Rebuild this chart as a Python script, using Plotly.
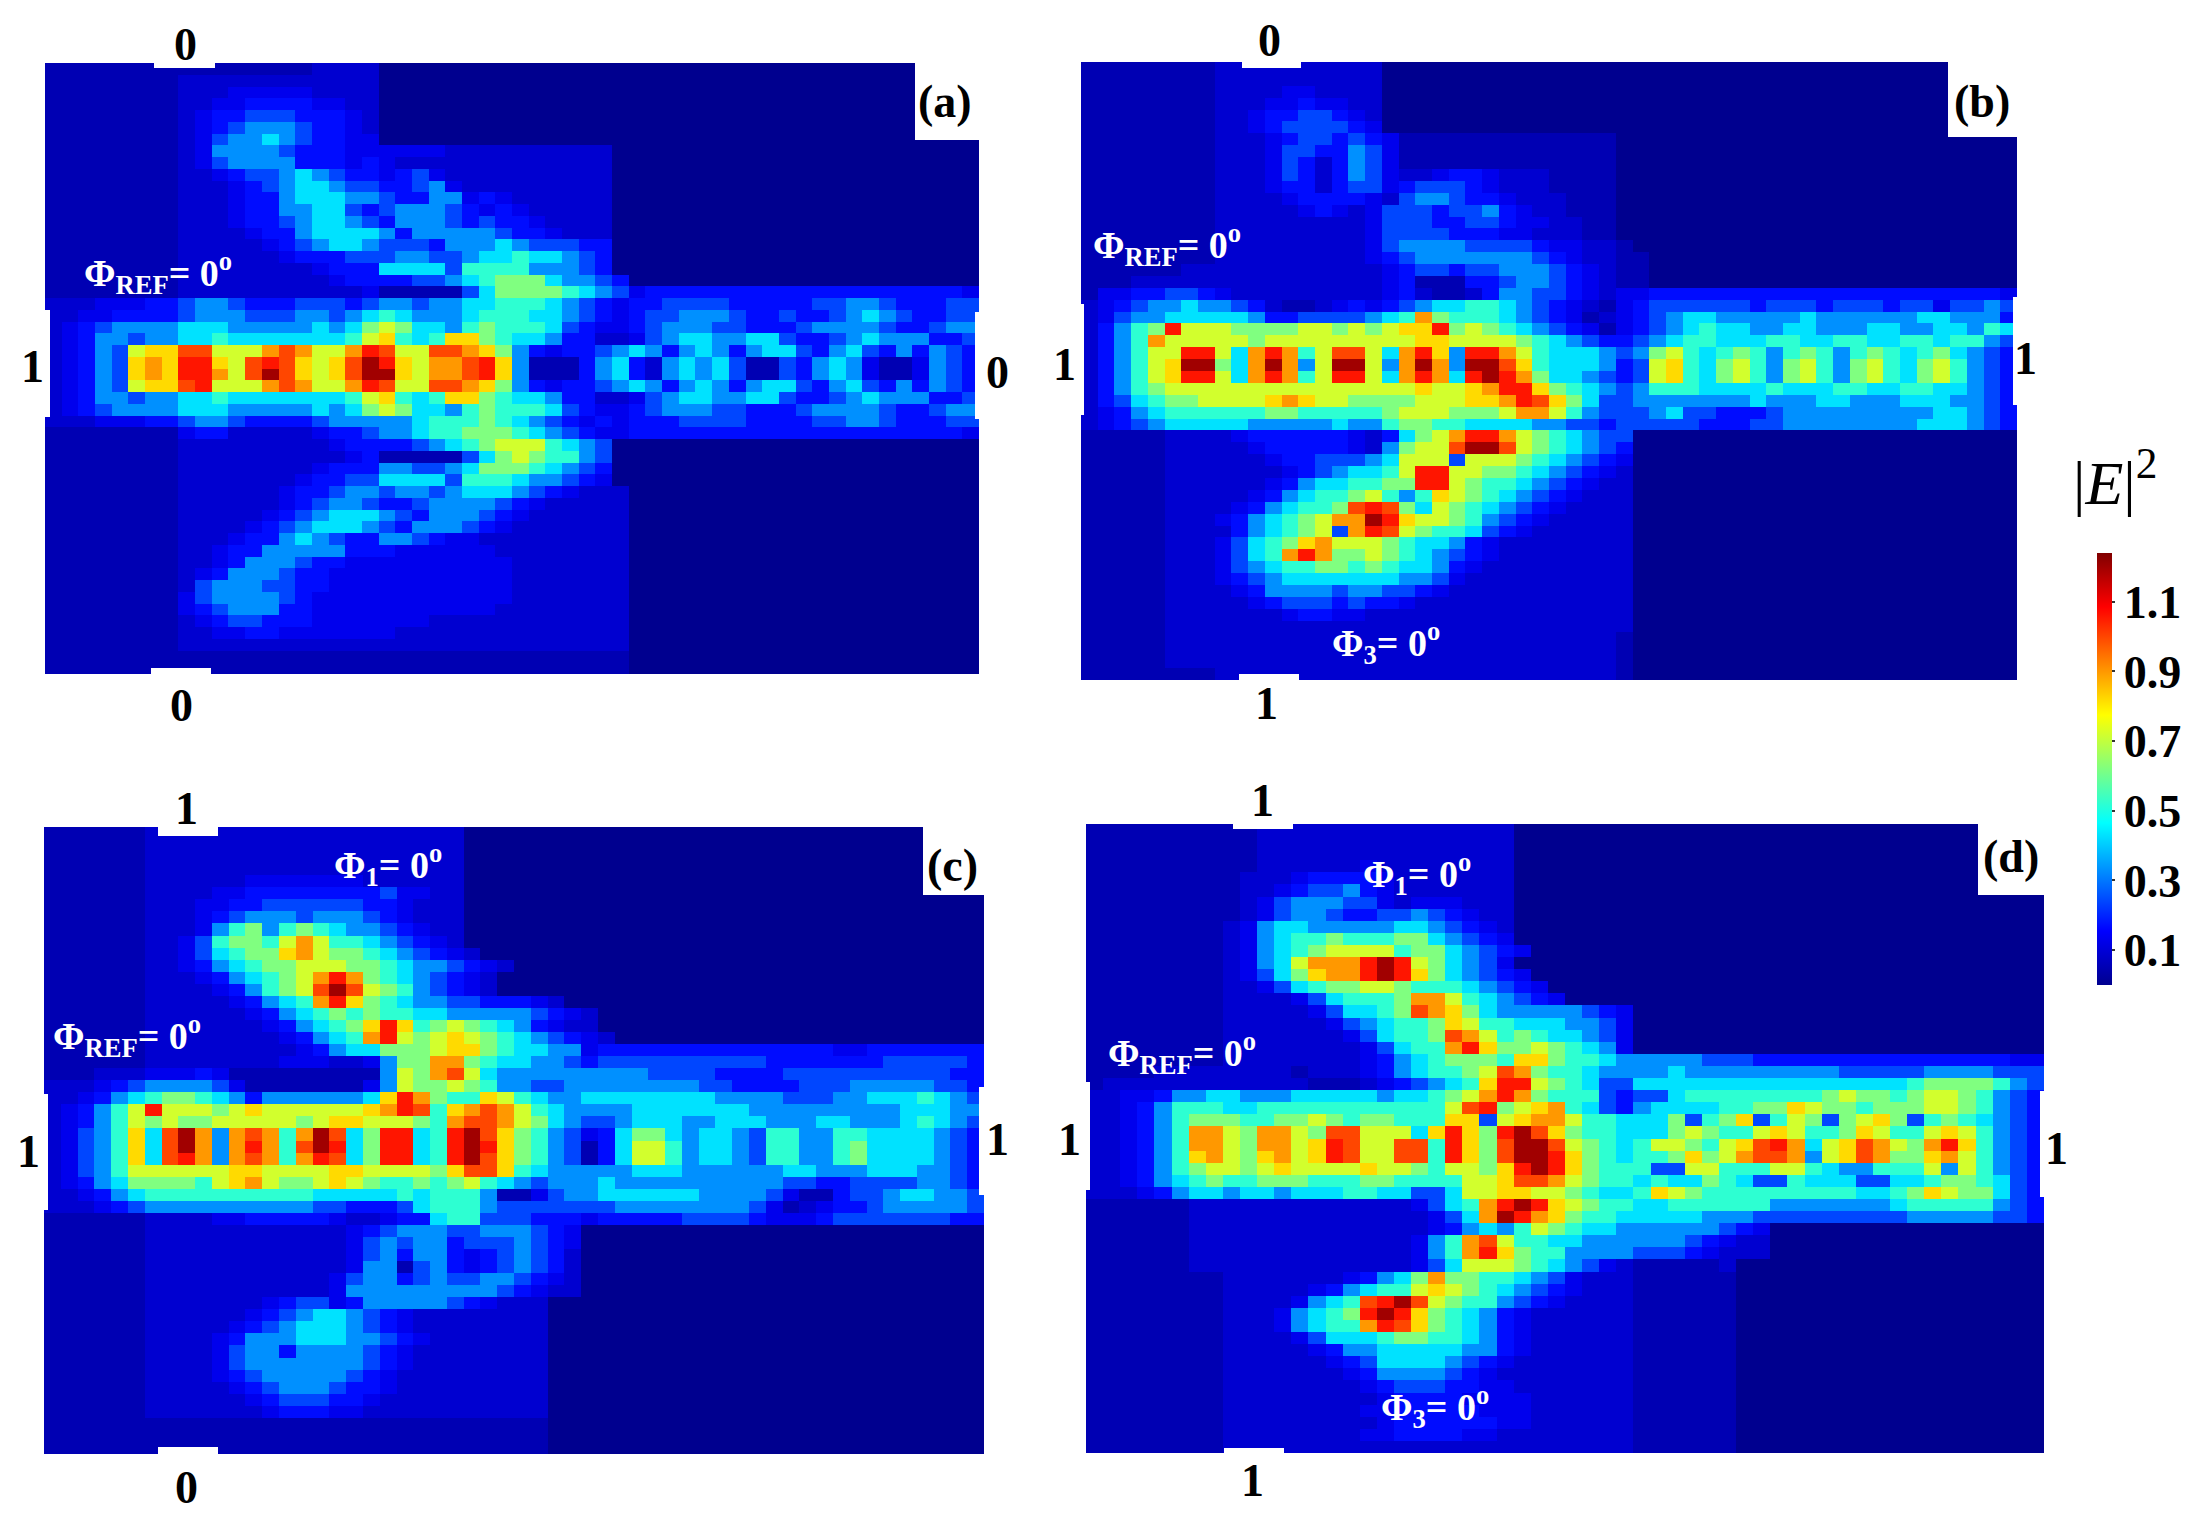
import plotly.graph_objects as go

W, H = 2196, 1525
NX, NY = 56, 52
LEVELS = {'.':0.0, ':':0.05, ',':0.09, '-':0.13, '1':0.17, '2':0.24, '3':0.33, '4':0.43, '5':0.52, '6':0.62,
          '7':0.72, '8':0.82, '9':0.9, 'a':1.0, 'b':1.06, 'c':1.2}

# every row: groups of 8 columns; the last given character continues to the right edge
ROWS_A = [
":::::::: :::::::: ,,,,.",
":::::::: ,,,,,,,, ,,,,.",
":::::::: ,,,----- ,,,,.",
":::::::: ,,--1111 --,,.",
":::::::: ,-112221 11-,.",
":::::::: ,-123332 11-,.",
":::::::: ,-233432 11--.",
":::::::: ,-333321 11-- ,,,,,,,, ,,.",
":::::::: ,-233331 11-1-,,, ,,,,,,,, ,,.",
":::::::: ,,-12234 3211-12- ,,,,,,,, ,,.",
":::::::: ,,,-1234 43221123 -,,,,,,, ,,.",
":::::::: ,,,-1134 44332113 3-1-,,,, ,,.",
":::::::: ,,,-1133 44212333 21-1-,,, ,,.",
":::::::: ,,,-1123 44321333 21211-,, ,,.",
":::::::: ,,,,-113 44443133 333211-, ,,.",
":::::::: ,,,,,-12 34432221 33343222 11.",
":::::::: ,,,,,,-1 11222332 23445443 21.",
":::::::: ,,,,,,,, -1114444 25555333 21.",
":::::::: ,,,,,,,, ,-111122 34566643 321.",
":::::::: ,,,,,,,, ,,,-:::: :2466665 432-1111 11111111 1111111-",
",,,---11 23321112 22123323 34455543 21-11222 21111122 33211122",
",,--1111 23332223 32345433 34555443 21-12233 32112112 34321122",
",-123333 44433333 43467644 35655542 1--12333 22111233 33211233",
",-133233 44544444 44578545 88654431 1,,-2344 33442112 34333112",
",-132788 aa7779a9 779ba77a a98631-1 12343134 31344213 42131321",
",-132898 bb87aba8 78acb879 9ab83::: 1341,343 42::2134 3-::-321",
",-132898 bb97aca8 78acc879 9ab83::: 1341,343 42::2134 3-::-321",
",-132788 ab7779a9 779ba77a a98631-1 12343134 31344213 42131321",
",-133233 44544444 44578545 88654431 1,,-2344 33442112 34333112",
",-123333 44433333 43467644 35655542 1--12333 22111233 33211233",
",,,---11 23321111 23333345 55654321 -1-11122 22111122 33211122",
":::::::: -11,,,,, -1123345 56665432 1--11111 11111111 1111111-",
":::::::: ,,,,,,,, ,-111123 45677754 32.",
":::::::: ,,,,,,,, ,,-1:::: :2467655 32.",
":::::::: ,,,,,,,, -1113322 34666543 21.",
":::::::: ,,,,,,,- 11224444 25554332 1-.",
":::::::: ,,,,,,-1 12332332 3444321- ,,,.",
":::::::: ,,,,,,-1 23321123 33321-,, ,,,.",
":::::::: ,,,,,-12 34443213 3321-,,, ,,,.",
":::::::: ,,,,-123 44432133 321-,,,, ,,,.",
":::::::: ,,,-1134 32113321 --,,,,,, ,,,.",
":::::::: ,,-11333 33111--- ---,,,,, ,,,.",
":::::::: ,,-13332 11------ ----,,,, ,,,.",
":::::::: ,-133321 1------- ----,,,, ,,,.",
":::::::: ,2333221 1------- ----,,,, ,,,.",
":::::::: -2333321 -------- ----,,,, ,,,.",
":::::::: -1233311 -------- ---,,,,, ,,,.",
":::::::: ,-122111 -------, ,,,,,,,, ,,,.",
":::::::: ,,--11-- -----,,, ,,,,,,,, ,,,.",
":::::::: ,,,,,,,, ,,,,,,,, ,,,,,,,, ,,,.",
":::::::: :::::::: :::::::: :::::::: :::.",
":::::::: :::::::: :::::::: :::::::: :::.",
]

ROWS_B = [
":::::::: ,,,,,,,, ,,.",
":::::::: ,,,,,,,, ,,.",
":::::::: ,,,,--,, ,,.",
":::::::: ,,,--1-- ,,.",
":::::::: ,,-11221 -,.",
":::::::: ,,-12222 1-.",
":::::::: ,,,-1221 21-::::: :::::::: .",
":::::::: ,,,-2211 32-::::: :::::::: .",
":::::::: ,,,-21,1 32-::::: :::::::: .",
":::::::: ,,,-21,1 32-,,-11 -,,,:::: .",
":::::::: ,,,-11,1 22-12221 -,,,:::: .",
":::::::: ,,,,-111 1-,23321 1-,,,::: .",
":::::::: ,,,,,-1- ,-222122 31-,,::: .",
":::::::: ,,,,,,,, ,-222112 21--,,:: .",
":::::::: ,,,,,,,, ,-222211 1--,,,:: .",
":::::::: ,,,,,,,, ,-233332 2221--,, :.",
":::::::: ,,,,,,,, ,-123333 33321-,, ::.",
"::::::,, ,,,,,,,, ,,-12212 233321-, ::.",
":::,,,,, ,,,,,,,, ,,-1:::1 123321-, ::.",
":--11221 -,,,,,,, ,,-1,::, 133221-, --111111 11111111 1111111-",
",-123343 321,::,- 1-123445 54321-,: -1222222 12221222 122-2232",
",-233444 44311222 23459655 54321-:, -1234433 33343333 33443331",
",1356b77 76666776 76788b67 654321-: -1234544 33443334 43344354",
",1359777 77677777 77778877 77654321 12345544 45544554 45545532",
",13577bb 749b957a a749b83b b9754443 23675456 53565356 54564321",
",13578cc 649c937c c739c93c ca854443 12785467 53675367 54675321",
",13578bb 749b957b b749b94b cb964432 12785467 53675367 54675321",
",1356777 77777777 77778778 9bb86543 23555444 45444554 45544321",
",1245667 77789877 66667778 89ba8642 23333333 43334433 34443321",
",-134555 55566555 55677766 67997532 22342211 12333333 33344321",
",-123444 44333334 33566554 44433221 22222111 22333333 33444321",
":::::,,, ,-111111 -,14679b b9765432 2.",
":::::,,, ,,-11111 -,3677ac ca765432 1.",
":::::,,, ,,,-1122 23477727 77654321 -.",
":::::,,, ,,,,-123 4457bb77 6654321- ,.",
":::::,,, ,,,-1344 5566bb76 554321-, ,.",
":::::,,, ,,-13455 67535876 54321-,, ,.",
":::::,,, ,-134556 aba64765 4321-,,, ,.",
":::::,,, -1345679 9cb87765 321-,,,, ,.",
":::::,,, ,1345672 9ba76554 21-,,,,, ,.",
":::::,,, -2456897 77654431 -,,,,,,, ,.",
":::::,,, -2459b96 67654321 -,,,,,,, ,.",
":::::,,, -2345566 5654431- ,,,,,,,, ,.",
":::::,,, -1234444 444332-, ,,,,,,,, ,.",
":::::,,, ,-133332 33221-,, ,,,,,,,, ,.",
":::::,,, ,,-12221 211-,,,, ,,,,,,,, ,.",
":::::,,, ,,,,-11- -,,,,,,, ,,,,,,,, ,.",
":::::,,, ,,,,,,,, ,,,,,,,, ,,,,,,,, ,.",
":::::,,, ,,,,,,,, ,,,,,,,, ,,,,,,,, :.",
":::::,,, ,,,,,,,, ,,,,,,,, ,,,,,,,, :.",
":::::,,, ,,,,,,,, ,,,,,,,, ,,,,,,,, :.",
":::::::: ,,,,,,,, ,,,,,,,, ,,,,,,,, :.",
]

ROWS_C = [
"::::::,, ,,,,,,,, ,,,,,,,, ,.",
"::::::,, ,,,,,,,, ,,,,,,,, ,.",
"::::::,, ,,,,,,,, ,,,,,,,, ,.",
"::::::,, ,,,,,,,, ,,,,,,,, ,.",
"::::::,, ,,,,---- ---,,,,, ,.",
"::::::,, ,,--1111 11112--, ,.",
"::::::,, ,--11222 22211-,, ,.",
"::::::,, ,-123332 33321-,, ,.",
"::::::,, ,-356356 543321-, ,.",
"::::::,, -2566579 7554321- ,.",
"::::::,, -2456689 76654321 -,.",
"::::::,, -1345667 77665433 21-,.",
"::::::,, ,-134567 9b965432 1-,.",
"::::::,, ,,-13567 aca76532 1-,.",
"::::::,, ,,,-1345 9b865433 22111-,.",
"::::::,, ,,,,-134 56565544 3333321- ,.",
"::::::,, ,,,,,-13 4568b856 765431-, ,.",
"::::::,, ,,,,,,-1 3459b767 87654321 -,.",
"::::::,, ,,,,,,,- 13446667 88654433 -1111111 1111111- -1111111",
"::::::,, ,,,,,,-- -,,-3669 96544332 12222222 22211111 11222221",
":::,,,-- -1-::::: ::::3769 a7433333 33332222 11112222 22222211",
",,,-1233 332-:::: :::-3766 76533223 33333332 21111222 33333221",
",,-13456 65431333 33348b96 55875433 44444444 33332223 34445432",
",-1357b7 77678777 77789ba5 89a97543 33344444 44333333 33344433",
",-135767 66777776 78877765 9aa97643 22344433 44433344 33345432",
",-23584a c939a959 ca46bb45 bca86532 -1466434 43255335 54444321",
",-23584a c939b95a cb46bb45 bcb86532 :1477534 43255335 64444321",
",-23584a b939a959 ba46bb45 bca86532 :1477534 43255335 64444321",
",-235777 77788777 78877776 8aa85433 33344433 33334433 34443321",
",-134666 65789766 78765565 67543233 34333333 33332211 22223321",
",,-13455 55555555 44444545 553::-23 34444443 3332-::1 22344332",
",,,-1233 33333333 22111245 55322222 22333333 332-:,-1 12333332",
"::::::,, ,,--1111 1-,,-114 55222111 -1111122 221---12 22222211",
"::::::,, ,,,,,,,, ,,-12333 2233321- .",
"::::::,, ,,,,,,,, ,,-23233 1222321- .",
"::::::,, ,,,,,,,, ,,-23133 1-12321, .",
"::::::,, ,,,,,,,, ,,-33:23 1-12321, .",
"::::::,, ,,,,,,,, ,-233123 223321-, .",
"::::::,, ,,,,,,,, ,-333333 33321-,, .",
"::::::,, ,,,,,-12 2-133333 21-,,,.. .",
"::::::,, ,,,,-123 44321-,, ,,,,,,.. .",
"::::::,, ,,,-1234 44321-,, ,,,,,,.. .",
"::::::,, ,,-13334 443321-, ,,,,,,.. .",
"::::::,, ,,-23313 33321-,, ,,,,,,.. .",
"::::::,, ,,-23333 33321-,, ,,,,,,.. .",
"::::::,, ,,-12333 3321-,,, ,,,,,,.. .",
"::::::,, ,,,-1233 3211-,,, ,,,,,,.. .",
"::::::,, ,,,,-122 211-,,,, ,,,,,,.. .",
"::::::,, ,,,,,-11 1--,,,,, ,,,,,,.. .",
":::::::: :::::::: :::::::: ::::::.. .",
":::::::: :::::::: :::::::: ::::::.. .",
":::::::: :::::::: :::::::: ::::::.. .",
]

ROWS_D = [
":::::::: ::,,,,,, ,,,,,,,, ,.",
":::::::: ::,,,,,, ,,,,,,,, ,.",
":::::::: ::,,,,,, ,,,,,,,, ,.",
":::::::: ::,,,,,, -,,,,,,, ,.",
":::::::: :,,,-111 1-,,,,,, ,.",
":::::::: :,,-1223 1-,,,,,, ,.",
":::::::: :,-23332 2-,---,, ,.",
":::::::: :,-23321 122321-, ,.",
":::::::: ,-344333 3344321- ,.",
":::::::: ,-345565 55664321 -.",
":::::::: ,-345677 77566432 1-.",
":::::::: ,-347999 bcb76432 -.",
":::::::: ,-246899 bcb86432 1-.",
":::::::: ,,-24566 77655543 21-.",
":::::::: ,,,,-245 55699754 321-.",
":::::::: ,,,,,-24 456a9864 3333321- .",
":::::::: ,,,,,,-2 34556875 5444332- .",
":::::::: ,,,,,,,- 24556a97 5654432- .",
":::::::: ,,,,,,,, -24559b8 6676543- .",
":::::::: ,,,,,,,, -1345666 58865543 33332221 11111111 111111--",
"::::,,,, ,,,,:,,, -1345567 a9655433 33433333 33332222 23333222",
":,,,,,,, ,,,,,::: ,-123458 bb765422 44444444 44444444 56666532",
",,--1334 43334444 43445679 b9655521 22455555 55567665 67765321",
",,-13555 44555555 555557ab 67895421 34444556 68766566 67765321",
",,-13566 65566765 66555882 78997554 44625682 57626786 25654321",
",,-13599 769976aa 77748b86 bca86554 44676557 87556875 57875321",
",,-13599 769978ba 77aa5b86 acca7654 5776578a b9478a97 69b85321",
",,-13589 768978ba 77aa5b86 accb8654 5568679a a9378a96 68975321",
",,-13567 76787777 87765776 8bcb8655 52277555 77543355 57375321",
",,-13456 55666555 66555577 8aa97655 45446542 25444224 45665421",
",,,-1344 34434445 54422477 88776544 58765555 55555445 68766421",
"::::::,, ,,,,,,,, ,,,-2459 bcb87655 44555555 33333334 55555321",
"::::::,, ,,,,,,,, ,,,,-249 cb986554 44443332 22222222 33333221",
"::::::,, ,,,,,,,, ,,,,-134 35765443 3333321- .",
"::::::,, ,,,,,,,, ,,,-359a 75544333 33321-,, .",
"::::::,, ,,,,,,,, ,,,-359b 86553333 2221-,,, .",
"::::::,, ,,,,,,,, ,,,-2477 765432-, :::::,.. .",
":::::::: ,,,,,,,- 13469665 5432-,,, ::::::.. .",
":::::::: ,,,,,-13 45578765 4321-,,, ::::::.. .",
":::::::: ,,,,-345 abca7655 321-,,,, ::::::.. .",
":::::::: ,,,-3456 bcb86543 1-,,,,,, ::::::.. .",
":::::::: ,,,-3455 9ba86543 1-,,,,,, ::::::.. .",
":::::::: ,,,,-244 45665543 1-,,,,,, ::::::.. .",
":::::::: ,,,,,-13 34444433 1-,,,,,, ::::::.. .",
":::::::: ,,,,,,-1 24444321 -,,,,,,, ::::::.. .",
":::::::: ,,,,,,,- 1333321- ,,,,,,,, ::::::.. .",
":::::::: ,,,,,,,, -122211- -,,,,,,, ::::::.. .",
":::::::: ,,,,,,,, ,-1111-- --,,,,,, ::::::.. .",
":::::::: ,,,,,,,, --11111- --,,,,,, ::::::.. .",
":::::::: ,,,,,,,, ,-111111 --,,,,,, ::::::.. .",
":::::::: ,,,,,,,, --1111-- ,,,,,,,, ::::::.. .",
":::::::: ,,,,,,,, ,,,,,,,, ,,,,,,,, ::::::.. .",
]

PANELS = [
    ("a", ROWS_A, (45, 979, 63, 674)),
    ("b", ROWS_B, (1081, 2017, 62, 680)),
    ("c", ROWS_C, (44, 984, 827, 1454)),
    ("d", ROWS_D, (1086, 2044, 824, 1453)),
]

# white cut-outs of the figure: (x0, x1, y0, y1) in page pixels
NOTCHES = [
    (154, 215, 60, 68), (151, 211, 668, 677), (42, 50, 310, 417), (975, 982, 312, 419), (915, 982, 60, 140),
    (1242, 1301, 60, 68), (1239, 1299, 674, 683), (1079, 1084, 304, 415), (2013, 2019, 297, 405), (1948, 2019, 60, 137),
    (158, 218, 825, 836), (158, 218, 1447, 1456), (42, 48, 1094, 1210), (979, 986, 1087, 1195), (923, 986, 825, 895),
    (1233, 1293, 822, 829), (1224, 1284, 1448, 1455), (1084, 1090, 1082, 1190), (2040, 2046, 1091, 1197), (1978, 2046, 822, 895),
]

PHI_REF = "Φ<sub>REF</sub>= 0<sup>o</sup>"
PHI_1 = "Φ<sub>1</sub>= 0<sup>o</sup>"
PHI_3 = "Φ<sub>3</sub>= 0<sup>o</sup>"
BLACK_LABELS = [
    ("0", 185, 45), ("0", 181, 705), ("1", 32, 367), ("0", 997, 372), ("(a)", 945, 101),
    ("0", 1269, 41), ("1", 1266, 704), ("1", 1064, 364), ("1", 2025, 358), ("(b)", 1982, 101),
    ("1", 186, 808), ("0", 186, 1487), ("1", 28, 1151), ("1", 997, 1139), ("(c)", 952, 865),
    ("1", 1262, 800), ("1", 1252, 1480), ("1", 1069, 1139), ("1", 2056, 1148), ("(d)", 2011, 857),
]
WHITE_LABELS = [
    (PHI_REF, 158, 273), (PHI_REF, 1167, 245), (PHI_3, 1386, 643),
    (PHI_1, 388, 865), (PHI_REF, 127, 1036),
    (PHI_1, 1417, 874), (PHI_REF, 1182, 1053), (PHI_3, 1435, 1407),
]
CB_TICKS = [0.1, 0.3, 0.5, 0.7, 0.9, 1.1]
JET = [[0, "rgb(0,0,143)"], [0.125, "rgb(0,0,255)"], [0.375, "rgb(0,255,255)"],
       [0.625, "rgb(255,255,0)"], [0.875, "rgb(255,0,0)"], [1, "rgb(128,0,0)"]]
FONT = "Liberation Serif"


def parse(rows):
    grid = []
    for row in rows:
        groups = row.split()
        cells = "".join(g.ljust(8, g[-1])[:8] for g in groups[:-1]) + groups[-1]
        cells = cells.ljust(NX, cells[-1])[:NX]
        grid.append([LEVELS[c] for c in cells])
    while len(grid) < NY:
        grid.append(grid[-1])
    return grid[:NY]


fig = go.Figure()
for i, (name, rows, (x0, x1, y0, y1)) in enumerate(PANELS):
    suffix = "" if i == 0 else str(i + 1)
    fig.add_trace(go.Heatmap(z=parse(rows), coloraxis="coloraxis", xaxis="x" + suffix, yaxis="y" + suffix,
                             name=name, hoverinfo="skip"))
    fig.layout["xaxis" + suffix] = dict(domain=[x0 / W, x1 / W], visible=False, range=[-0.5, NX - 0.5],
                                        anchor="y" + suffix, fixedrange=True)
    fig.layout["yaxis" + suffix] = dict(domain=[1 - y1 / H, 1 - y0 / H], visible=False, range=[NY - 0.5, -0.5],
                                        anchor="x" + suffix, fixedrange=True)

for (x0, x1, y0, y1) in NOTCHES:
    fig.add_shape(type="rect", xref="paper", yref="paper", x0=x0 / W, x1=x1 / W, y0=1 - y1 / H, y1=1 - y0 / H,
                  fillcolor="white", line_width=0, layer="above")
for text, px, py in BLACK_LABELS:
    fig.add_annotation(text="<b>%s</b>" % text, x=px / W, y=1 - py / H, xref="paper", yref="paper", showarrow=False,
                       font=dict(family=FONT, size=46, color="black"), xanchor="center", yanchor="middle")
for text, px, py in WHITE_LABELS:
    fig.add_annotation(text="<b>%s</b>" % text, x=px / W, y=1 - py / H, xref="paper", yref="paper", showarrow=False,
                       font=dict(family=FONT, size=38, color="white"), xanchor="center", yanchor="middle")
fig.add_annotation(text="|<i>E</i>|<sup>2</sup>", x=2115 / W, y=1 - 478 / H, xref="paper", yref="paper", showarrow=False,
                   font=dict(family=FONT, size=62, color="black"), xanchor="center", yanchor="middle")

fig.update_layout(
    width=W, height=H, margin=dict(l=0, r=0, t=0, b=0), paper_bgcolor="white", plot_bgcolor="white",
    showlegend=False,
    coloraxis=dict(cmin=0, cmax=1.24, colorscale=JET, colorbar=dict(
        x=2097 / W, xanchor="left", y=1 - 769 / H, yanchor="middle", len=432, lenmode="pixels",
        thickness=15, thicknessmode="pixels", xpad=0, ypad=0, outlinewidth=0,
        tickvals=CB_TICKS, ticktext=["<b>%.1f</b>" % t for t in CB_TICKS], ticks="outside", ticklen=3, tickwidth=2,
        tickcolor="#333", tickfont=dict(family=FONT, size=46, color="black"))),
)
fig.write_html("out.html", config={"displayModeBar": False},
               post_script="document.body.style.margin='0';document.body.style.overflow='hidden';")
